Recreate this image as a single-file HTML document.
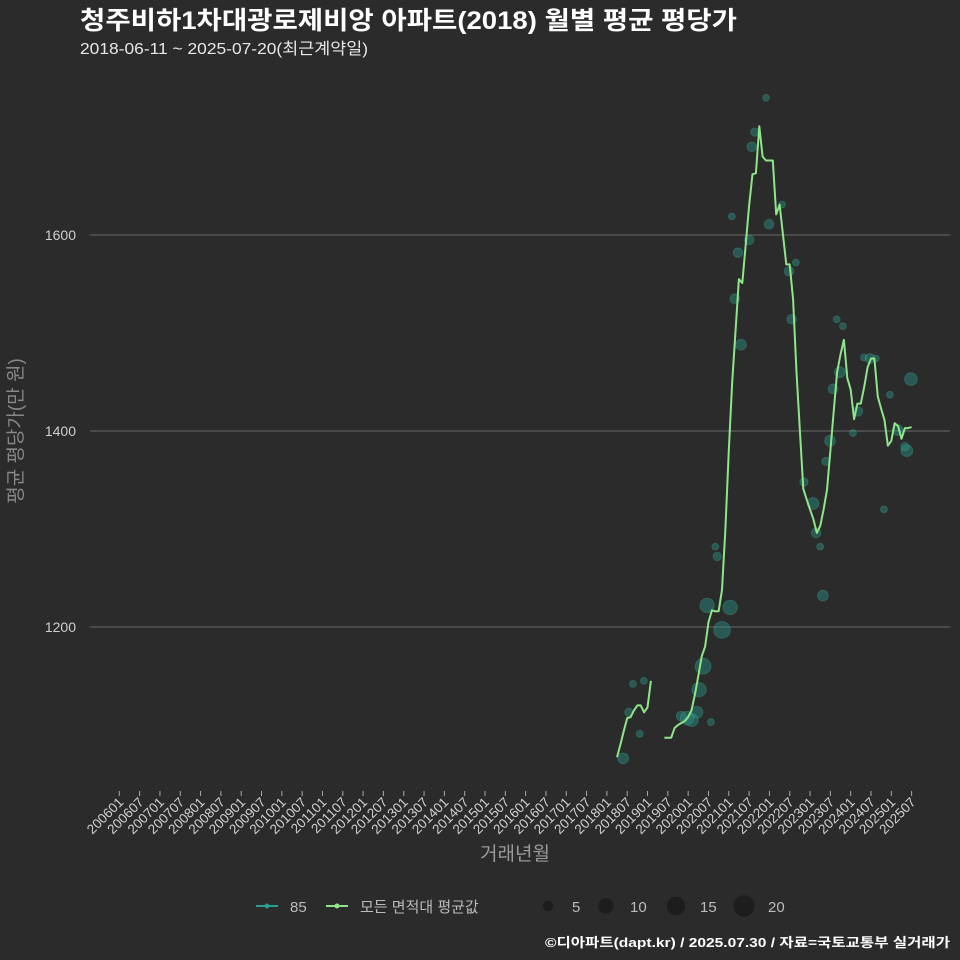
<!DOCTYPE html>
<html><head><meta charset="utf-8"><style>
body{margin:0;background:#2b2b2b;}
svg{display:block;font-family:"Liberation Sans","Noto Sans CJK KR",sans-serif;}
</style></head><body>
<svg id="chart" width="960" height="960">
<rect width="960" height="960" fill="#2b2b2b"/>
<text x="80" y="29" fill="#ffffff" font-size="25" font-weight="bold" textLength="657" lengthAdjust="spacingAndGlyphs">청주비하1차대광로제비앙 아파트(2018) 월별 평균 평당가</text>
<text x="80" y="54" fill="#e8e8e8" font-size="16" textLength="288" lengthAdjust="spacingAndGlyphs">2018-06-11 ~ 2025-07-20(최근계약일)</text>
<g id="grid"></g><g id="bubbles"></g><g id="lines"></g><g id="xaxis"></g><g id="yaxis"></g>
<text x="515" y="860" fill="#999" font-size="19" text-anchor="middle">거래년월</text>
<text transform="translate(22,431) rotate(-90)" fill="#888" font-size="19" text-anchor="middle">평균 평당가(만 원)</text>
<g>
<g><line x1="256" y1="906" x2="278" y2="906" stroke="#2a9d8f" stroke-width="2"/><circle cx="267" cy="906" r="2.5" fill="#2a9d8f"/><text x="290" y="912" fill="#bbb" font-size="15">85</text></g>
<g><line x1="326" y1="906" x2="348" y2="906" stroke="#8fe58a" stroke-width="2"/><circle cx="337" cy="906" r="2.5" fill="#8fe58a"/><text x="360" y="912" fill="#bbb" font-size="15">모든 면적대 평균값</text></g>
<g id="sizeLegend"></g>
</g>
<text x="950" y="947" fill="#ffffff" font-size="13" font-weight="bold" text-anchor="end" textLength="405" lengthAdjust="spacingAndGlyphs">©디아파트(dapt.kr) / 2025.07.30 / 자료=국토교통부 실거래가</text>
</svg>
<script>
// month index counted from 2006-01 (=0)
const lineMonths=[147,148,149,150,151,152,153,154,155,156,157,158,159,160,161,162,163,164,165,166,167,168,169,170,171,172,173,174,175,176,177,178,179,180,181,182,183,184,185,186,187,188,189,190,191,192,193,194,195,196,197,198,199,200,201,202,203,204,205,206,207,208,209,210,211,212,213,214,215,216,217,218,219,220,221,222,223,224,225,226,227,228,229,230,231,232,233,234];
const lineValues=[1067,1080,1094,1107,1108,1115,1120,1120,1113,1118,1145,null,null,null,1087,1087,1087,1097,1100,1102,1104,1108,1115,1131,1150,1170,1180,1205,1217,1216,1216,1238,1300,1380,1450,1503,1555,1551,1590,1630,1662,1663,1711,1680,1676,1676,1676,1621,1631,1600,1570,1570,1534,1460,1400,1341,1330,1320,1310,1296,1303,1320,1340,1380,1420,1460,1478,1493,1454,1442,1412,1428,1428,1445,1465,1474,1474,1435,1423,1411,1385,1390,1408,1405,1392,1403,1403,1404];
const bubbleMonths=[148.8,150.5,151.7,153.7,154.9,165.9,167.7,169.1,170.6,174.7,171.2,172.4,173.6,180.4,178,176,176.6,180.9,181.8,182.7,183.6,186,186.8,187.7,191,191.9,195.7,197.8,199.8,198.6,202.2,204.9,205.8,207,207.8,209.9,208.7,210.8,212.8,211.9,213.7,216.7,218.1,219.9,221.7,223.4,227.6,225.8,232.6,232,233.8,229.9];
const bubbleValues=[1066,1113,1142,1091,1145,1109,1107,1105,1113,1103,1136,1160,1222,1220,1197,1282,1272,1619,1535,1582,1488,1595,1690,1705,1740,1611,1631,1563,1572,1514,1348,1326,1296,1282,1232,1390,1369,1443,1460,1514,1507,1398,1420,1475,1474,1474,1437,1320,1380,1384,1453,1401];
const bubbleCounts=[5,3,2,2,2,4,8,7,6,2,9,11,9,9,12,2,3,2,4,4,5,4,4,3,2,4,2,4,2,4,3,6,4,2,5,5,3,4,5,2,2,2,4,2,4,2,2,2,6,3,7,5];
const yTicks=[1200,1400,1600];
const sizeTicks=[5,10,15,20];
const NS="http://www.w3.org/2000/svg";
const xs=m=>119.3+m*3.386;
const ys=v=>431-(v-1400)*0.98;
const rs=n=>2.4*Math.sqrt(n);
function mk(t,a,p){const e=document.createElementNS(NS,t);for(const k in a)e.setAttribute(k,a[k]);p.appendChild(e);return e;}
const grid=document.getElementById('grid'),yax=document.getElementById('yaxis'),xax=document.getElementById('xaxis');
yTicks.forEach(v=>{
 const l=mk('line',{x1:90,x2:950,y1:ys(v),y2:ys(v),stroke:'#686868','stroke-width':1},grid);
 
 
 const t=mk('text',{x:76,y:ys(v)+5,fill:'#cfcfcf','font-size':14,'text-anchor':'end'},yax);
 t.textContent=v;
 
 
});
for(let i=0;i<=39;i++){
 const m=i*6,x=xs(m),yr=2006+Math.floor(i/2),lab=yr+(i%2?'07':'01');
 const tk=mk('line',{x1:x,x2:x,y1:791,y2:796,stroke:'#aaa'},xax);
 
 
 const t=mk('text',{transform:`translate(${x+5},${803}) rotate(-45)`,fill:'#d0d0d0','font-size':13.5,'text-anchor':'end'},xax);
 t.textContent=lab;
 
 
}
const bg=document.getElementById('bubbles');
bubbleMonths.forEach((m,i)=>{
 const c=mk('circle',{cx:xs(m),cy:ys(bubbleValues[i]),r:rs(bubbleCounts[i]),fill:'#2a9d8f','fill-opacity':0.4,stroke:'#3fb3a3','stroke-opacity':0.3,'stroke-width':1},bg);
 
 
});
const lg=document.getElementById('lines');
let seg=[];
function flush(){if(seg.length>1){const p=mk('polyline',{points:seg.join(' '),fill:'none',stroke:'#8fe58a','stroke-width':2,'stroke-linejoin':'round'},lg);
 
 }seg=[];}
lineMonths.forEach((m,i)=>{const v=lineValues[i];if(v==null){flush();}else seg.push(xs(m).toFixed(1)+','+ys(v).toFixed(1));});
flush();
const sl=document.getElementById('sizeLegend');
const sx=[548,606,676,744];
sizeTicks.forEach((n,i)=>{
 const c=mk('circle',{cx:sx[i],cy:906,r:rs(n),fill:'#1a1a1a','fill-opacity':0.8},sl);
 
 
 const t=mk('text',{x:sx[i]+24,y:912,fill:'#bbb','font-size':15},sl);
 t.textContent=n;
 
 
});
</script>
</body></html>
